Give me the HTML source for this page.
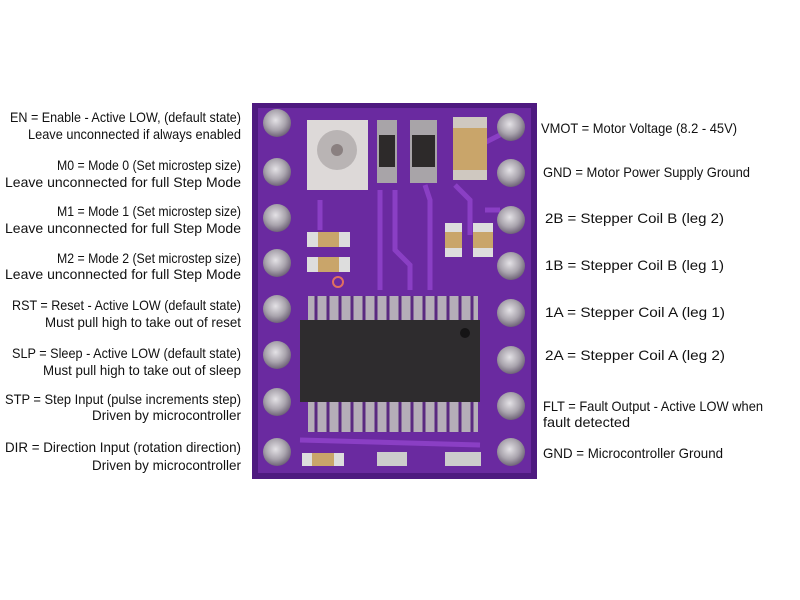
<!DOCTYPE html>
<html><head><meta charset="utf-8"><style>
html,body{margin:0;padding:0;background:#fff;width:800px;height:600px;overflow:hidden}
text{font-family:"Liberation Sans",sans-serif;font-size:14px;fill:#111}
</style></head><body>
<svg width="800" height="600" viewBox="0 0 800 600" xmlns="http://www.w3.org/2000/svg">
<defs>
<radialGradient id="pin" cx="45%" cy="40%" r="60%"><stop offset="0" stop-color="#e4e2e6"/><stop offset="0.6" stop-color="#a9a4ad"/><stop offset="1" stop-color="#6f6478"/></radialGradient>
</defs>
<rect x="252" y="103" width="285" height="376" fill="#4e1a80"/>
<rect x="258" y="108" width="273" height="365" fill="#6a2aa0"/>
<g stroke="#8a3fc4" stroke-width="5" fill="none">
<path d="M380 190 V290"/><path d="M395 190 L395 250 L410 265 V290"/><path d="M425 185 L430 200 V290"/>
<path d="M455 185 L470 200 V235"/><path d="M485 210 L500 210"/><path d="M320 200 V230"/>
<path d="M470 150 L510 130"/><path d="M300 440 L480 445"/>
</g>
<g fill="url(#pin)">
<circle cx="277" cy="123" r="14"/><circle cx="277" cy="172" r="14"/><circle cx="277" cy="218" r="14"/><circle cx="277" cy="263" r="14"/>
<circle cx="277" cy="309" r="14"/><circle cx="277" cy="355" r="14"/><circle cx="277" cy="402" r="14"/><circle cx="277" cy="452" r="14"/>
<circle cx="511" cy="127" r="14"/><circle cx="511" cy="173" r="14"/><circle cx="511" cy="220" r="14"/><circle cx="511" cy="266" r="14"/>
<circle cx="511" cy="313" r="14"/><circle cx="511" cy="360" r="14"/><circle cx="511" cy="406" r="14"/><circle cx="511" cy="452" r="14"/>
</g>
<rect x="307" y="120" width="61" height="70" fill="#ddd9d8"/>
<circle cx="337" cy="150" r="20" fill="#b9b4b4"/><circle cx="337" cy="150" r="6" fill="#8a8080"/>
<rect x="377" y="120" width="20" height="63" fill="#a8a4a8"/><rect x="379" y="135" width="16" height="32" fill="#2d2a2a"/>
<rect x="410" y="120" width="27" height="63" fill="#a8a4a8"/><rect x="412" y="135" width="23" height="32" fill="#2d2a2a"/>
<rect x="453" y="117" width="34" height="63" fill="#cfc8c0"/><rect x="453" y="128" width="34" height="42" fill="#c9a56a"/>
<rect x="307" y="232" width="43" height="15" fill="#ddd"/><rect x="318" y="232" width="21" height="15" fill="#c9a56a"/>
<rect x="307" y="257" width="43" height="15" fill="#ddd"/><rect x="318" y="257" width="21" height="15" fill="#c9a56a"/>
<rect x="445" y="223" width="17" height="34" fill="#ddd"/><rect x="445" y="232" width="17" height="16" fill="#c9a56a"/>
<rect x="473" y="223" width="20" height="34" fill="#ddd"/><rect x="473" y="232" width="20" height="16" fill="#c9a56a"/>
<rect x="302" y="453" width="42" height="13" fill="#ddd"/><rect x="312" y="453" width="22" height="13" fill="#c9a56a"/>
<rect x="377" y="452" width="30" height="14" fill="#ccc"/><rect x="445" y="452" width="36" height="14" fill="#ccc"/>
<circle cx="338" cy="282" r="5" fill="none" stroke="#e07060" stroke-width="2"/>
<g fill="#b5aeb8">
<rect x="308" y="296" width="170" height="24"/>
<rect x="308" y="402" width="170" height="30"/>
</g>
<g stroke="#5a2a80" stroke-width="3">
<path d="M316 296V320M328 296V320M340 296V320M352 296V320M364 296V320M376 296V320M388 296V320M400 296V320M412 296V320M424 296V320M436 296V320M448 296V320M460 296V320M472 296V320"/>
<path d="M316 402V432M328 402V432M340 402V432M352 402V432M364 402V432M376 402V432M388 402V432M400 402V432M412 402V432M424 402V432M436 402V432M448 402V432M460 402V432M472 402V432"/>
</g>
<rect x="300" y="320" width="180" height="82" fill="#2e2c2e"/>
<circle cx="465" cy="333" r="5" fill="#151415"/>
<g text-anchor="end">
<text x="241" y="122" textLength="231" lengthAdjust="spacingAndGlyphs">EN = Enable - Active LOW, (default state)</text>
<text x="241" y="139" textLength="213" lengthAdjust="spacingAndGlyphs">Leave unconnected if always enabled</text>
<text x="241" y="170" textLength="184" lengthAdjust="spacingAndGlyphs">M0 = Mode 0 (Set microstep size)</text>
<text x="241" y="187" textLength="236" lengthAdjust="spacingAndGlyphs">Leave unconnected for full Step Mode</text>
<text x="241" y="216" textLength="184" lengthAdjust="spacingAndGlyphs">M1 = Mode 1 (Set microstep size)</text>
<text x="241" y="233" textLength="236" lengthAdjust="spacingAndGlyphs">Leave unconnected for full Step Mode</text>
<text x="241" y="263" textLength="184" lengthAdjust="spacingAndGlyphs">M2 = Mode 2 (Set microstep size)</text>
<text x="241" y="279" textLength="236" lengthAdjust="spacingAndGlyphs">Leave unconnected for full Step Mode</text>
<text x="241" y="310" textLength="229" lengthAdjust="spacingAndGlyphs">RST = Reset - Active LOW (default state)</text>
<text x="241" y="327" textLength="196" lengthAdjust="spacingAndGlyphs">Must pull high to take out of reset</text>
<text x="241" y="358" textLength="229" lengthAdjust="spacingAndGlyphs">SLP = Sleep - Active LOW (default state)</text>
<text x="241" y="375" textLength="198" lengthAdjust="spacingAndGlyphs">Must pull high to take out of sleep</text>
<text x="241" y="404" textLength="236" lengthAdjust="spacingAndGlyphs">STP = Step Input (pulse increments step)</text>
<text x="241" y="420" textLength="149" lengthAdjust="spacingAndGlyphs">Driven by microcontroller</text>
<text x="241" y="452" textLength="236" lengthAdjust="spacingAndGlyphs">DIR = Direction Input (rotation direction)</text>
<text x="241" y="470" textLength="149" lengthAdjust="spacingAndGlyphs">Driven by microcontroller</text>
</g>
<text x="541" y="133" textLength="196" lengthAdjust="spacingAndGlyphs">VMOT = Motor Voltage (8.2 - 45V)</text>
<text x="543" y="177" textLength="207" lengthAdjust="spacingAndGlyphs">GND = Motor Power Supply Ground</text>
<text x="545" y="223" textLength="179" lengthAdjust="spacingAndGlyphs">2B = Stepper Coil B (leg 2)</text>
<text x="545" y="270" textLength="179" lengthAdjust="spacingAndGlyphs">1B = Stepper Coil B (leg 1)</text>
<text x="545" y="317" textLength="180" lengthAdjust="spacingAndGlyphs">1A = Stepper Coil A (leg 1)</text>
<text x="545" y="360" textLength="180" lengthAdjust="spacingAndGlyphs">2A = Stepper Coil A (leg 2)</text>
<text x="543" y="411" textLength="220" lengthAdjust="spacingAndGlyphs">FLT = Fault Output - Active LOW when</text>
<text x="543" y="427" textLength="87" lengthAdjust="spacingAndGlyphs">fault detected</text>
<text x="543" y="458" textLength="180" lengthAdjust="spacingAndGlyphs">GND = Microcontroller Ground</text>
</svg>
</body></html>
